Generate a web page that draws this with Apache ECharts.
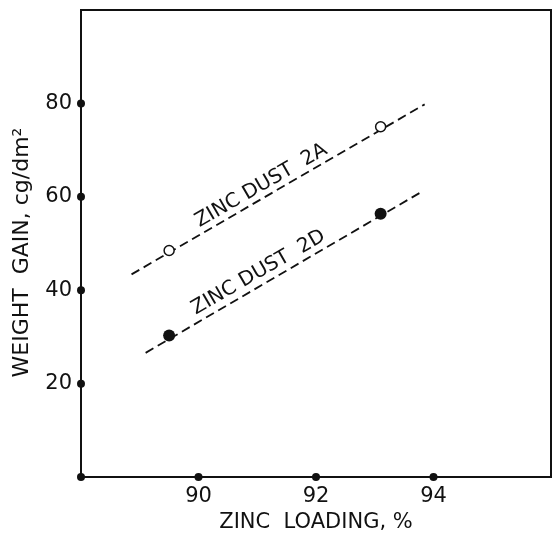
<!DOCTYPE html>
<html>
<head>
<meta charset="utf-8">
<script src="https://cdn.jsdelivr.net/npm/echarts@6/dist/echarts.min.js"></script>
<style>
    html, body { margin: 0; padding: 0; background: #fff; }
    #chart { width: 554px; height: 538px; }
</style>
</head>
<body>
<div id="chart"></div>
<script>
// measured points
var dust2A = [[89.5, 48.5], [93.1, 75.0]];
var dust2D = [[89.5, 30.3], [93.1, 56.4]];
// dashed fit lines (end points)
var line2A = [[88.86, 43.4], [93.85, 79.8]];
var line2D = [[89.1, 26.6], [93.76, 60.8]];
// dots drawn on the axes at the ticks
var xTickDots = [[88, 0], [90, 0], [92, 0], [94, 0]];
var yTickDots = [[88, 20], [88, 40], [88, 60], [88, 80]];
// line captions
var captions = [
    {name: 'ZINC DUST  2A', value: [91.07, 62.4]},
    {name: 'ZINC DUST  2D', value: [91.02, 43.8]}
];

var font = 'DejaVu Sans';
var myChart = echarts.init(document.getElementById('chart'));

var option = {
    animation: false,
    backgroundColor: '#fff',
    grid: {
        left: 81,
        right: 2,
        top: 10,
        bottom: 52,
        show: true,
        borderColor: '#111',
        borderWidth: 2
    },
    xAxis: {
        type: 'value',
        min: 88,
        max: 96,
        interval: 2,
        name: 'ZINC  LOADING, %',
        nameLocation: 'middle',
        nameGap: 29,
        nameTextStyle: {color: '#111', fontFamily: font, fontSize: 21},
        axisLine: {lineStyle: {color: '#111', width: 2}},
        axisTick: {show: false},
        splitLine: {show: false},
        axisLabel: {
            color: '#111', fontFamily: font, fontSize: 21, margin: 9,
            formatter: function (v) {
                return (v == 88 || v == 96) ? '' : v;
            }
        }
    },
    yAxis: {
        type: 'value',
        min: 0,
        max: 100,
        interval: 20,
        name: 'WEIGHT  GAIN, cg/dm²',
        nameLocation: 'middle',
        nameGap: 48,
        nameTextStyle: {color: '#111', fontFamily: font, fontSize: 22, padding: [0, 18, 0, 0]},
        axisLine: {lineStyle: {color: '#111', width: 2}},
        axisTick: {show: false},
        splitLine: {show: false},
        axisLabel: {
            color: '#111', fontFamily: font, fontSize: 21, margin: 9,
            formatter: function (v) {
                return (v == 0 || v == 100) ? '' : v;
            }
        }
    },
    series: [
        {
            type: 'line',
            data: line2A,
            symbol: 'none',
            lineStyle: {color: '#111', width: 1.8, type: [9, 5]}
        },
        {
            type: 'line',
            data: line2D,
            symbol: 'none',
            lineStyle: {color: '#111', width: 1.8, type: [9, 5]}
        },
        {
            type: 'scatter',
            data: dust2A,
            symbol: 'circle',
            symbolSize: 10,
            itemStyle: {color: '#fff', borderColor: '#111', borderWidth: 1.5, opacity: 1},
            z: 5
        },
        {
            type: 'scatter',
            data: dust2D,
            symbol: 'circle',
            symbolSize: 12,
            itemStyle: {color: '#111', opacity: 1},
            z: 5
        },
        {
            // tick dots on both axes
            type: 'scatter',
            data: xTickDots.concat(yTickDots),
            symbol: 'circle',
            symbolSize: 8,
            clip: false,
            itemStyle: {color: '#111', opacity: 1},
            z: 6
        },
        {
            type: 'scatter',
            data: captions,
            symbolSize: 0,
            itemStyle: {opacity: 1},
            label: {
                show: true,
                position: 'inside',
                rotate: 30,
                formatter: '{b}',
                color: '#111',
                fontFamily: font,
                fontSize: 20
            }
        }
    ]
};
myChart.setOption(option);
</script>
</body>
</html>
